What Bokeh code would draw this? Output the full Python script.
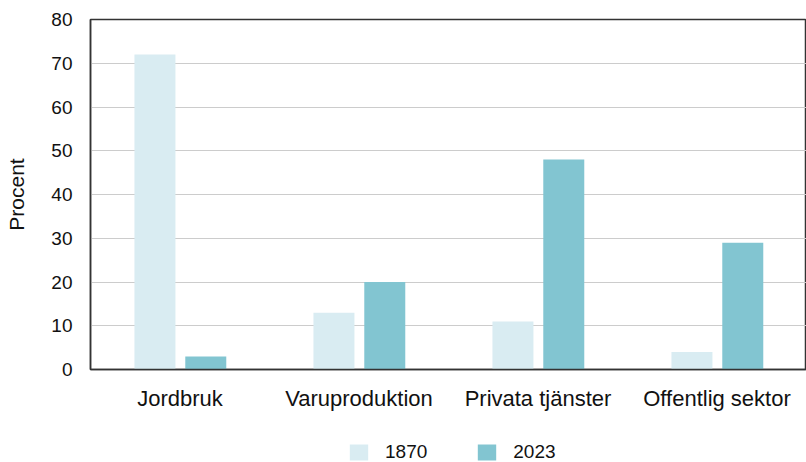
from bokeh.plotting import figure
from bokeh.layouts import column
from bokeh.models import ColumnDataSource, FactorRange, Legend, LegendItem
from bokeh.transform import dodge
from bokeh.embed import file_html
from bokeh.resources import INLINE

categories = ["Jordbruk", "Varuproduktion", "Privata tjänster", "Offentlig sektor"]
years = ["1870", "2023"]
values_1870 = [72, 13, 11, 4]
values_2023 = [3, 20, 48, 29]
y_ticks = [0, 10, 20, 30, 40, 50, 60, 70, 80]

FONT = "Liberation Sans"
C1870 = "#d9ecf2"
C2023 = "#82c5d1"

src = ColumnDataSource(dict(cat=categories, v1870=values_1870, v2023=values_2023))

p = figure(x_range=FactorRange(*categories, range_padding=0), y_range=(0, 80),
           frame_width=716, frame_height=350, output_backend="svg", toolbar_location=None,
           min_border_left=90, min_border_right=0, min_border_top=19, min_border_bottom=40)

r1 = p.vbar(x=dodge("cat", -0.14, range=p.x_range), top="v1870", width=0.229,
            source=src, color=C1870, line_color=None)
r2 = p.vbar(x=dodge("cat", 0.144, range=p.x_range), top="v2023", width=0.229,
            source=src, color=C2023, line_color=None)

p.yaxis.ticker = y_ticks
p.yaxis.axis_label = "Procent"
p.yaxis.axis_label_text_font = FONT
p.yaxis.axis_label_text_font_size = "21px"
p.yaxis.axis_label_text_font_style = "normal"
p.yaxis.axis_label_text_color = "#111111"
p.yaxis.axis_label_standoff = 20
for ax in (p.xaxis[0], p.yaxis[0]):
    ax.major_label_text_font = FONT
    ax.major_label_text_color = "#111111"
    ax.major_tick_line_color = None
    ax.minor_tick_line_color = None
    ax.axis_line_color = "#333333"
    ax.axis_line_width = 1.5
p.yaxis.major_label_text_font_size = "19px"
p.xaxis.major_label_text_font_size = "22px"
p.yaxis.major_label_standoff = 12
p.xaxis.major_label_standoff = 10

p.xgrid.grid_line_color = None
p.ygrid.grid_line_color = "#cccccc"
p.ygrid.grid_line_width = 1
p.outline_line_color = "#333333"
p.outline_line_width = 1.5

# legend strip below the chart (zero-size swatch renderers just carry the colours)
lg = figure(width=806, height=53, output_backend="svg", toolbar_location=None,
            x_axis_location=None, y_axis_location=None, min_border=0,
            x_range=(0, 1), y_range=(0, 1))
lg.grid.visible = False
lg.outline_line_color = None
e1 = lg.vbar(x=[0], top=[0], width=0, color=C1870, line_color=None)
e2 = lg.vbar(x=[0], top=[0], width=0, color=C2023, line_color=None)
legend = Legend(items=[LegendItem(label=years[0], renderers=[e1]),
                       LegendItem(label=years[1], renderers=[e2])],
                orientation="horizontal", location=(257, 3),
                label_text_font=FONT, label_text_font_size="19px",
                label_text_color="#111111", glyph_width=23, glyph_height=20,
                label_height=20, spacing=48, label_standoff=15, border_line_color=None,
                background_fill_alpha=0, padding=0, margin=0)
lg.add_layout(legend, "center")

layout = column(p, lg, spacing=0)
open("out.html", "w").write(file_html(layout, INLINE))
